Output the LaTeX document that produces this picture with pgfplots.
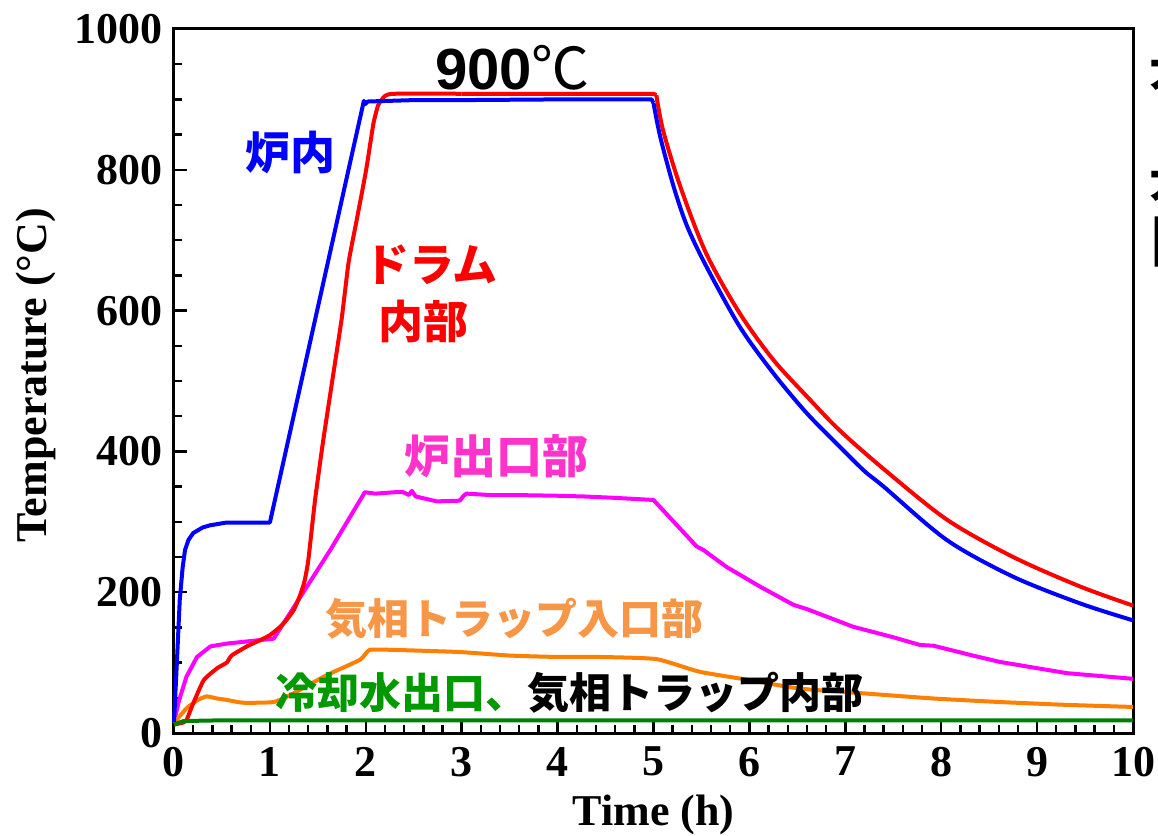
\documentclass[border=0pt]{standalone}
\usepackage{fontspec}
\setmainfont{Liberation Serif}
\newfontfamily\jp{Noto Sans CJK JP}
\newfontfamily\arial{Liberation Sans}
\usepackage{pgfplots}
\pgfplotsset{compat=1.18}
\definecolor{cblue}{RGB}{0,0,255}
\definecolor{cred}{RGB}{255,0,0}
\definecolor{cmag}{RGB}{255,0,255}
\definecolor{corange}{RGB}{255,128,0}
\definecolor{cgreen}{RGB}{0,128,0}
\definecolor{tmag}{RGB}{255,51,204}
\definecolor{torange}{RGB}{247,150,70}
\definecolor{tgreen}{RGB}{0,153,0}
\begin{document}
\begin{tikzpicture}
\begin{axis}[name=ax, scale only axis, width=479.5pt, height=352pt,
 xmin=0, xmax=10, ymin=0, ymax=1000,
 xtick={0,1,...,10}, ytick={0,200,...,1000},
 minor x tick num=4, minor y tick num=3,
 tick pos=left, tick align=inside,
 major tick length=6.5pt, minor tick length=4pt,
 every tick/.style={black, line width=1.2pt},
 axis line style={line width=1.5pt},
 ticklabel style={font=\fontsize{22}{22}\selectfont\bfseries},
 yticklabel style={xshift=-2pt},
 xticklabel style={yshift=-3.5pt},
 /pgf/number format/assume math mode=true,
 /pgf/number format/1000 sep={},
 xlabel={Time (h)}, ylabel={Temperature (°C)},
 label style={font=\fontsize{22}{22}\selectfont\bfseries},
 xlabel style={at={(axis description cs:0.5,-0.132)}, anchor=base},
 ylabel style={at={(axis description cs:-0.1439,0.508)}, anchor=center},
 clip=false,
 every axis plot/.append style={line width=2pt, line join=round, no markers},
]
% magenta: furnace outlet
\addplot[cmag] coordinates {
(0,15) (0.05,45) (0.13,80) (0.24,108) (0.38,123) (0.55,127) (0.9,132) (1.04,134)
(1.63,260) (1.99,342) (2.1,340) (2.3,342) (2.39,342) (2.45,338) (2.48,344) (2.52,336)
(2.74,329) (2.98,330) (3.02,337) (3.05,340) (3.3,338) (3.57,338) (4.0,337) (4.27,336)
(4.6,334) (5.0,331) (5.45,265) (5.52,260) (5.76,236) (6.11,208) (6.46,182) (6.6,176)
(7.08,151) (7.5,136) (7.78,125) (7.92,124) (8.3,111) (8.61,101) (9.31,85) (10,77)
};
% orange: gas-phase trap inlet
\addplot[corange, smooth, tension=0.3] coordinates {
(0,14) (0.13,35) (0.25,47) (0.34,52) (0.45,49) (0.55,47) (0.72,43) (1.04,44)
(1.24,56) (1.59,82) (1.94,104) (2.04,118) (2.3,118) (2.98,115) (3.5,110) (4.0,108)
(4.44,108) (5.03,105) (5.48,87) (6.01,75) (6.53,63) (7.22,56) (7.92,49) (8.61,44)
(9.3,40) (10,37)
};
% red: drum inside (heating)
\addplot[cred, smooth, tension=0.3] coordinates {
(0,12) (0.1,15) (0.13,18) (0.2,42) (0.31,75) (0.45,92) (0.55,100) (0.6,110)
(0.76,123) (0.9,132) (1.0,139) (1.1,150) (1.17,160) (1.25,175) (1.31,194) (1.36,215)
(1.40,245) (1.47,330) (1.55,410) (1.65,500) (1.75,590) (1.82,668) (1.9,725) (1.97,775)
(2.01,805) (2.08,866) (2.13,892) (2.2,905) (2.3,908) (3.0,908)
};
\addplot[cred] coordinates {(3.0,908) (5.0,908) (5.03,906)};
% red: cooling
\addplot[cred, smooth, tension=0.5] coordinates {
(5.03,906) (5.10,856) (5.28,776) (5.55,681) (5.90,596) (6.25,530) (6.60,478)
(6.94,430) (7.40,375) (8.06,303) (8.75,250) (9.45,208) (10,181)
};
% blue: furnace inside (heating)
\addplot[cblue] coordinates {
(0,15) (0.03,100) (0.06,189) (0.09,235) (0.115,260) (0.15,274) (0.2,284) (0.3,292)
(0.375,295) (0.55,299) (0.8,299) (1.0,299) (1.98,898) (1.99,893) (2.02,897) (2.5,899)
(3.0,899) (4.0,900) (4.98,900) (5.0,895)
};
% blue: cooling
\addplot[cblue, smooth, tension=0.5] coordinates {
(5.0,895) (5.07,847) (5.21,776) (5.35,720) (5.55,663)
(5.90,577) (6.25,511) (6.60,454) (6.94,407) (7.2,372) (7.40,350) (8.06,274)
(8.75,222) (9.45,184) (10,160)
};
% green: cooling water outlet / trap inside
\addplot[cgreen] coordinates {
(0,12) (0.1,17) (0.5,18) (10,18)
};
\node[font=\arial\bfseries\fontsize{29}{32}\selectfont, anchor=center] at (axis cs:3.53,945) {900{\jp\mdseries ℃}};
\node[font=\jp\bfseries\fontsize{22.5}{26}\selectfont, text=cblue] at (axis cs:1.22,824) {炉内};
\node[font=\jp\bfseries\fontsize{22.5}{26}\selectfont, text=cred] at (axis cs:2.68,665) {ドラム};
\node[font=\jp\bfseries\fontsize{22.5}{26}\selectfont, text=cred] at (axis cs:2.60,584) {内部};
\node[font=\jp\bfseries\fontsize{23}{26}\selectfont, text=tmag] at (axis cs:3.36,393) {炉出口部};
\node[font=\jp\bfseries\fontsize{21}{24}\selectfont, text=torange] at (axis cs:3.55,163) {気相トラップ入口部};
\node[font=\jp\bfseries\fontsize{21}{24}\selectfont, anchor=west, inner sep=0pt] at (axis cs:1.05,57) {{\color{tgreen}冷却水出口、}気相トラップ内部};
\node[font=\jp\bfseries\fontsize{22}{24}\selectfont, anchor=west, inner sep=0pt] at (axis cs:10.17,942) {大};
\node[font=\jp\bfseries\fontsize{22}{24}\selectfont, anchor=west, inner sep=0pt] at (axis cs:10.17,785) {大};
\node[font=\jp\bfseries\fontsize{30}{32}\selectfont, anchor=west, inner sep=0pt] at (axis cs:10.17,697) {口};
\end{axis}
\pgfresetboundingbox
\useasboundingbox ([xshift=-87pt,yshift=-51.5pt]ax.south west) rectangle ([xshift=12.5pt,yshift=14.5pt]ax.north east);
\end{tikzpicture}
\end{document}
